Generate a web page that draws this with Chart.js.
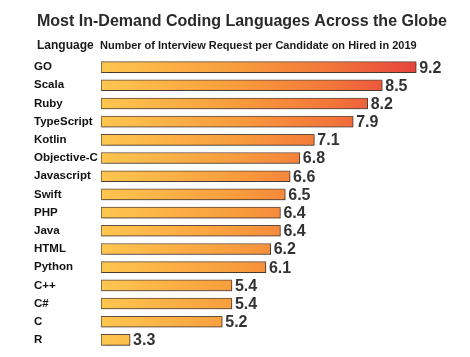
<!DOCTYPE html>
<html>
<head>
<meta charset="utf-8">
<script src="https://cdn.jsdelivr.net/npm/chart.js@4"></script>
<style>
html,body{margin:0;padding:0;background:#fff;}
#wrap{width:470px;height:357px;position:relative;}
</style>
</head>
<body>
<div id="wrap"><canvas id="c" width="470" height="357"></canvas></div>
<script>
const categories = ["GO","Scala","Ruby","TypeScript","Kotlin","Objective-C","Javascript","Swift","PHP","Java","HTML","Python","C++","C#","C","R"];
const values = [9.2,8.5,8.2,7.9,7.1,6.8,6.6,6.5,6.4,6.4,6.2,6.1,5.4,5.4,5.2,3.3];
const valueLabels = ["9.2","8.5","8.2","7.9","7.1","6.8","6.6","6.5","6.4","6.4","6.2","6.1","5.4","5.4","5.2","3.3"];
const titleText = "Most In-Demand Coding Languages Across the Globe";
const headerLeft = "Language";
const headerRight = "Number of Interview Request per Candidate on Hired in 2019";

const FONT = "'Liberation Sans', Arial, Helvetica, sans-serif";

function barGradient(ctx) {
  const chart = ctx.chart;
  const ca = chart.chartArea;
  if (!ca) return '#F7923A';
  const x = chart.scales.x;
  const x0 = x.getPixelForValue(x.min);
  const x1 = x.getPixelForValue(9.2);
  const g = chart.ctx.createLinearGradient(x0, 0, x1, 0);
  g.addColorStop(0, '#FEC64F');
  g.addColorStop(0.45, '#F89A3C');
  g.addColorStop(0.75, '#F2733A');
  g.addColorStop(1, '#E6433D');
  return g;
}

const headerPlugin = {
  id: 'headerPlugin',
  afterDraw(chart) {
    const c = chart.ctx;
    c.save();
    c.fillStyle = '#2a2a2a';
    c.textBaseline = 'middle';
    c.textAlign = 'left';
    c.font = "bold 16px " + FONT;
    c.fillText(titleText, 37, 22);
    c.font = "bold 12px " + FONT;
    c.fillStyle = '#1a1a1a';
    c.fillText(headerLeft, 37, 46);
    c.font = "bold 11px " + FONT;
    c.fillText(headerRight, 100, 46);
    c.restore();
  }
};

const shadowPlugin = {
  id: 'shadowPlugin',
  beforeDatasetsDraw(chart) {
    const c = chart.ctx;
    c.save();
    c.shadowColor = 'rgba(0,0,0,0.25)';
    c.shadowOffsetX = 1;
    c.shadowOffsetY = 1.5;
    c.shadowBlur = 1.5;
  },
  afterDatasetsDraw(chart) {
    chart.ctx.restore();
  }
};

const valueLabelPlugin = {
  id: 'valueLabelPlugin',
  afterDatasetsDraw(chart) {
    const c = chart.ctx;
    const meta = chart.getDatasetMeta(0);
    c.save();
    c.font = "bold 16px " + FONT;
    c.fillStyle = '#333333';
    c.textAlign = 'left';
    c.textBaseline = 'middle';
    meta.data.forEach((bar, i) => {
      c.fillText(valueLabels[i], bar.x + 3, bar.y + 1);
    });
    c.restore();
  }
};

new Chart(document.getElementById('c'), {
  type: 'bar',
  data: {
    labels: categories,
    datasets: [{
      data: values,
      backgroundColor: barGradient,
      borderColor: 'rgba(70,45,30,0.85)',
      borderWidth: 1,
      borderSkipped: false,
      barThickness: 11,
      base: 2.7
    }]
  },
  options: {
    indexAxis: 'y',
    responsive: false,
    animation: false,
    layout: { padding: { left: 34, right: 15, top: 58, bottom: 8 } },
    plugins: {
      legend: { display: false },
      tooltip: { enabled: false },
      title: { display: false }
    },
    scales: {
      x: {
        type: 'linear',
        min: 2.7,
        max: 10,
        display: false,
        grid: { display: false }
      },
      y: {
        grid: { display: false },
        border: { display: false },
        afterFit(scale) { scale.width = 67; },
        ticks: {
          crossAlign: 'far',
          padding: 0,
          color: '#111',
          font: { family: FONT, size: 11.5, weight: 'bold' }
        }
      }
    }
  },
  plugins: [shadowPlugin, valueLabelPlugin, headerPlugin]
});
</script>
</body>
</html>
